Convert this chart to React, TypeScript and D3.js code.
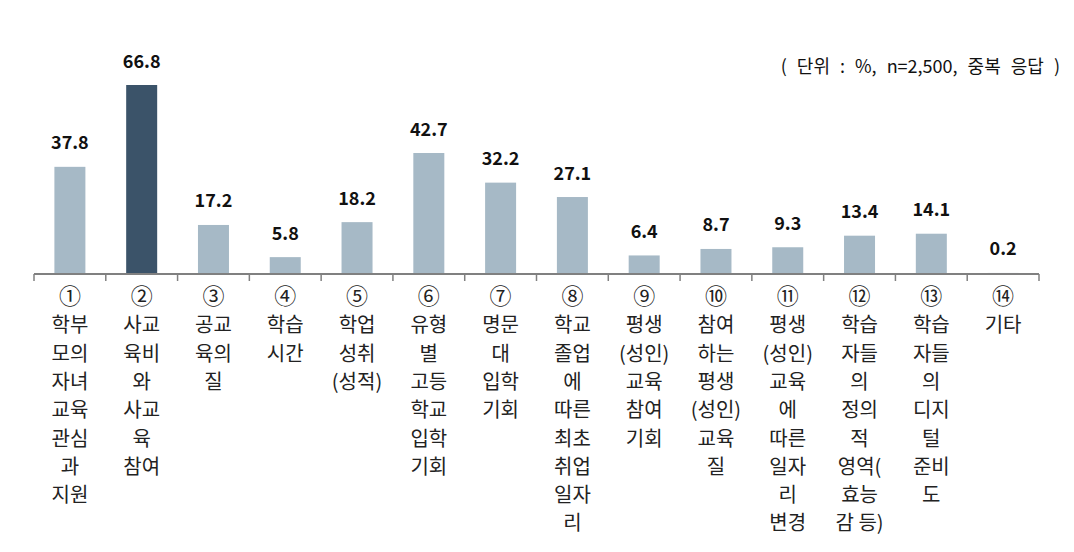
import React from "react";
import * as d3 from "d3";

const categories: string[] = ["①","②","③","④","⑤","⑥","⑦","⑧","⑨","⑩","⑪","⑫","⑬","⑭"];
const values: number[] = [37.8, 66.8, 17.2, 5.8, 18.2, 42.7, 32.2, 27.1, 6.4, 8.7, 9.3, 13.4, 14.1, 0.2];
const labelLines: string[][] = [
  ["학부","모의","자녀","교육","관심","과","지원"],
  ["사교","육비","와","사교","육","참여"],
  ["공교","육의","질"],
  ["학습","시간"],
  ["학업","성취","(성적)"],
  ["유형","별","고등","학교","입학","기회"],
  ["명문","대","입학","기회"],
  ["학교","졸업","에","따른","최초","취업","일자","리"],
  ["평생","(성인)","교육","참여","기회"],
  ["참여","하는","평생","(성인)","교육","질"],
  ["평생","(성인)","교육","에","따른","일자","리","변경"],
  ["학습","자들","의","정의","적","영역(","효능","감 등)"],
  ["학습","자들","의","디지","털","준비","도"],
  ["기타"],
];
const highlightIndex = 1;
const noteText = "( 단위 : %, n=2,500, 중복 응답 )";

const W = 1074;
const H = 552;
const FONT = "'Noto Sans CJK KR', 'Noto Sans', sans-serif";

export default function App() {
  const x = d3.scaleBand<string>().domain(categories).range([34, 1039]).padding(0);
  const y = d3.scaleLinear().domain([0, 66.8]).range([273.5, 85]);
  const barW = 31;
  const ticks = d3.range(categories.length + 1).map((i) => 34 + i * x.step());

  return (
    <div style={{ position: "absolute", left: 0, top: 0 }}>
      <svg width={W} height={H} style={{ display: "block", background: "#fff" }}>
        {values.map((v, i) => {
          const cx = (x(categories[i]) as number) + x.bandwidth() / 2;
          return (
            <g key={i}>
              <rect
                x={cx - barW / 2}
                y={y(v)}
                width={barW}
                height={y(0) - y(v)}
                fill={i === highlightIndex ? "#3B5369" : "#A6B9C6"}
              />
              <text
                x={cx}
                y={y(v) - 17.5}
                textAnchor="middle"
                fontFamily={FONT}
                fontWeight="bold"
                fontSize={18}
                fill="#111"
              >
                {v.toFixed(1)}
              </text>
            </g>
          );
        })}
        <line x1={34} x2={1039} y1={274} y2={274} stroke="#808080" strokeWidth={2} />
        {ticks.map((t, i) => (
          <line key={i} x1={t} x2={t} y1={274} y2={281} stroke="#808080" strokeWidth={1.5} />
        ))}
        {categories.map((c, i) => {
          const cx = (x(c) as number) + x.bandwidth() / 2;
          const lines = [c, ...labelLines[i]];
          return (
            <text key={c} textAnchor="middle" fontFamily={FONT} fontSize={20} fill="#222">
              {lines.map((l, j) => (
                <tspan key={j} x={cx} y={304 + j * 28.3} fontSize={j === 0 ? 22 : 20}>
                  {l}
                </tspan>
              ))}
            </text>
          );
        })}
        <text
          x={1060}
          y={73}
          textAnchor="end"
          wordSpacing={6}
          fontFamily={FONT}
          fontSize={18}
          fill="#111"
        >
          {noteText}
        </text>
      </svg>
    </div>
  );
}
